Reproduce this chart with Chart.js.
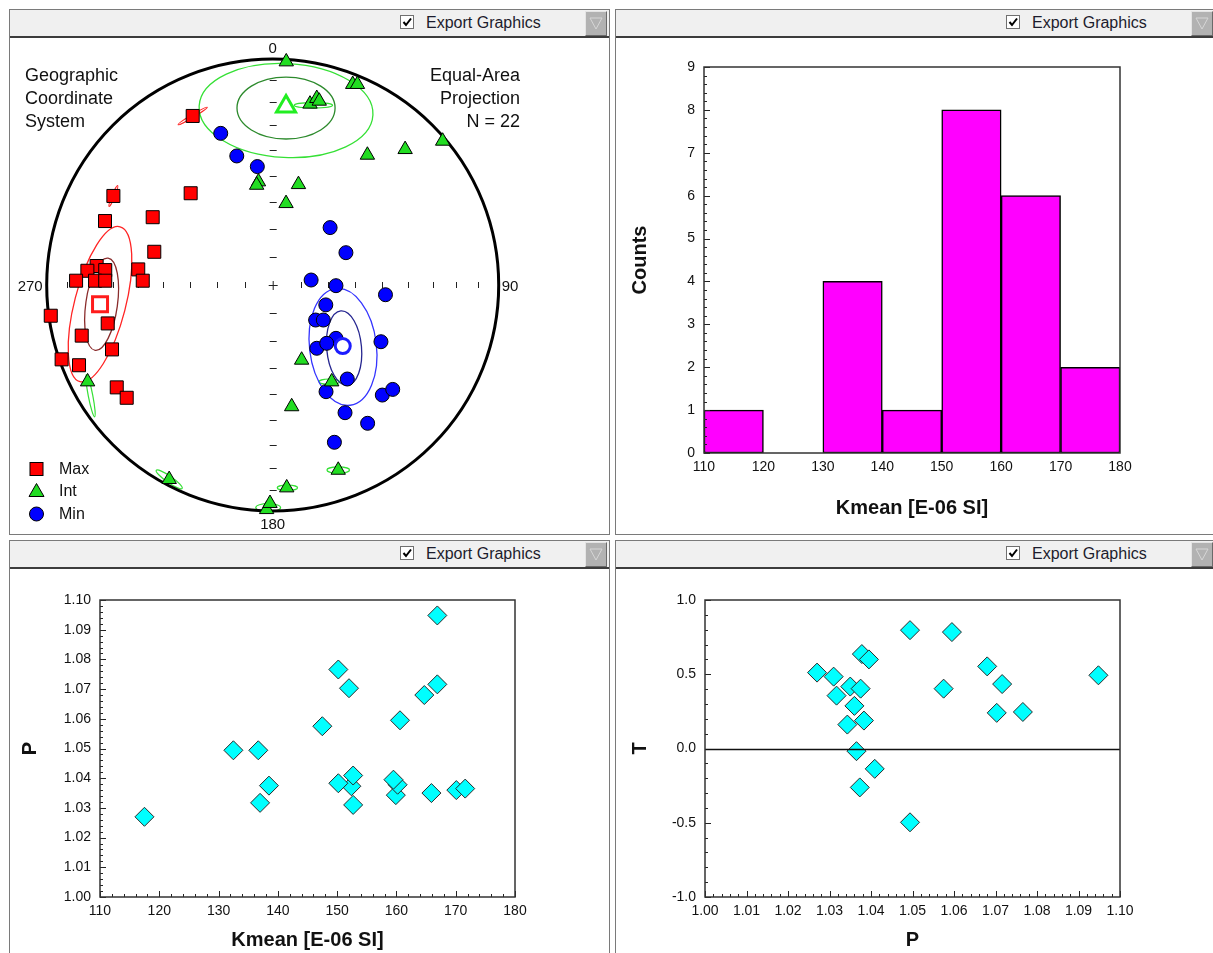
<!DOCTYPE html>
<html lang="en">
<head>
<meta charset="utf-8">
<title>Anisotropy of magnetic susceptibility – site summary</title>
<script src="https://cdn.jsdelivr.net/npm/chart.js@4.4.1/dist/chart.umd.min.js"></script>
<style>
  html, body { margin: 0; padding: 0; background: #fff; }
  body { width: 1213px; height: 953px; overflow: hidden; position: relative;
         font-family: "Liberation Sans", Arial, sans-serif; }
  .panel { position: absolute; background: #fff; border: 1px solid #7a7a7a; box-sizing: border-box; overflow: hidden; }
  .bar { position: absolute; left: 0; right: 0; top: 0; height: 26px; background: #f0f0f0; border-bottom: 2px solid #3c3c3c; }
  .chk { position: absolute; left: 390px; top: 5px; width: 14px; height: 14px; border: 1px solid #707070; background: #fff; box-sizing: border-box; }
  .chk svg { position: absolute; left: 0; top: 0; }
  .lbl { position: absolute; left: 416px; top: 0; line-height: 26px; font-size: 16px; color: #1c1c2c; white-space: nowrap; }
  .drop { position: absolute; left: 575px; top: 1px; width: 22px; height: 25px; background: #b2b2b2;
          border: 1px solid; border-color: #e4e4e4 #6a6a6a #6a6a6a #e4e4e4; box-sizing: border-box; }
  .drop svg { position: absolute; left: 0; top: 0; }
  canvas { position: absolute; left: 0; }
</style>
</head>
<body>

<div class="panel" style="left:9px;top:9px;width:601px;height:526px;">
  <div class="bar">
    <div class="chk"><svg width="12" height="12"><polyline points="2.5,6 5,9 10,2.5" fill="none" stroke="#000" stroke-width="2"/></svg></div>
    <div class="lbl">Export Graphics</div>
    <div class="drop"><svg width="20" height="23"><polygon points="4,6 16,6 10,17" fill="none" stroke="#d6d6d6" stroke-width="1"/></svg></div>
  </div>
  <canvas id="net" width="599" height="495" style="top:28px;"></canvas>
</div>

<div class="panel" style="left:615px;top:9px;width:601px;height:526px;">
  <div class="bar">
    <div class="chk"><svg width="12" height="12"><polyline points="2.5,6 5,9 10,2.5" fill="none" stroke="#000" stroke-width="2"/></svg></div>
    <div class="lbl">Export Graphics</div>
    <div class="drop"><svg width="20" height="23"><polygon points="4,6 16,6 10,17" fill="none" stroke="#d6d6d6" stroke-width="1"/></svg></div>
  </div>
  <canvas id="hist" width="597" height="495" style="top:28px;"></canvas>
</div>

<div class="panel" style="left:9px;top:540px;width:601px;height:420px;">
  <div class="bar">
    <div class="chk"><svg width="12" height="12"><polyline points="2.5,6 5,9 10,2.5" fill="none" stroke="#000" stroke-width="2"/></svg></div>
    <div class="lbl">Export Graphics</div>
    <div class="drop"><svg width="20" height="23"><polygon points="4,6 16,6 10,17" fill="none" stroke="#d6d6d6" stroke-width="1"/></svg></div>
  </div>
  <canvas id="pk" width="599" height="384" style="top:28px;"></canvas>
</div>

<div class="panel" style="left:615px;top:540px;width:601px;height:420px;">
  <div class="bar">
    <div class="chk"><svg width="12" height="12"><polyline points="2.5,6 5,9 10,2.5" fill="none" stroke="#000" stroke-width="2"/></svg></div>
    <div class="lbl">Export Graphics</div>
    <div class="drop"><svg width="20" height="23"><polygon points="4,6 16,6 10,17" fill="none" stroke="#d6d6d6" stroke-width="1"/></svg></div>
  </div>
  <canvas id="tp" width="597" height="384" style="top:28px;"></canvas>
</div>

<script>
// ---------------------------------------------------------------------------
// Specimen data (22 specimens)
// ---------------------------------------------------------------------------

// Mean susceptibility [E-06 SI], degree of anisotropy P, shape parameter T
const kmean  = [117.5, 152.7, 137.0, 159.9, 165.9, 170.1, 171.6, 152.4, 138.5, 160.2, 150.2,
                159.5, 152.7, 132.5, 136.7, 147.5, 160.6, 164.7, 152.0, 166.9, 150.2, 166.9];
const pAniso = [1.0270, 1.0310, 1.0317, 1.0343, 1.0350, 1.0360, 1.0365, 1.0373, 1.0375, 1.0378, 1.0383,
                1.0395, 1.0409, 1.0494, 1.0494, 1.0575, 1.0595, 1.0680, 1.0703, 1.0716, 1.0766, 1.0948];
const tShape = [0.511, 0.484, 0.356, 0.161, 0.417, 0.287, -0.018, -0.262, 0.403, 0.636, 0.188,
                0.600, -0.137, 0.797, -0.497, 0.403, 0.784, 0.553, 0.240, 0.434, 0.246, 0.493];

// Kmean histogram
const binEdges  = [110, 120, 130, 140, 150, 160, 170, 180];
const binCounts = [1, 0, 4, 1, 8, 6, 2];

// Principal axes in equal-area projection coordinates [east, north], unit primitive circle
const maxAxes = [[-0.354, 0.748], [-0.363, 0.406], [-0.705, 0.394], [-0.531, 0.300], [-0.742, 0.283],
                 [-0.524, 0.147], [-0.595, 0.069], [-0.575, 0.019], [-0.779, 0.084], [-0.820, 0.063],
                 [-0.741, 0.066], [-0.870, 0.019], [-0.786, 0.019], [-0.741, 0.019], [-0.730, -0.170],
                 [-0.845, -0.224], [-0.982, -0.136], [-0.711, -0.285], [-0.934, -0.329], [-0.857, -0.355],
                 [-0.690, -0.453], [-0.646, -0.499]];
const intAxes = [[0.060, 0.988], [0.354, 0.888], [0.375, 0.888], [0.165, 0.801], [0.195, 0.826],
                 [0.206, 0.814], [0.752, 0.637], [0.586, 0.600], [0.419, 0.575], [0.114, 0.445],
                 [-0.063, 0.457], [-0.071, 0.442], [0.059, 0.361], [0.128, -0.332], [0.261, -0.428],
                 [0.084, -0.538], [0.290, -0.819], [0.062, -0.897], [-0.027, -0.993], [-0.012, -0.966],
                 [-0.458, -0.860], [-0.819, -0.428]];
const minAxes = [[-0.230, 0.671], [-0.159, 0.571], [-0.068, 0.524], [0.254, 0.254], [0.324, 0.143],
                 [0.170, 0.022], [0.280, -0.003], [0.499, -0.043], [0.235, -0.088], [0.190, -0.155],
                 [0.224, -0.155], [0.280, -0.236], [0.195, -0.280], [0.239, -0.258], [0.479, -0.251],
                 [0.330, -0.416], [0.236, -0.472], [0.485, -0.487], [0.531, -0.462], [0.320, -0.565],
                 [0.420, -0.612], [0.273, -0.696]];

// Site mean axes
const maxMean = [-0.764, -0.085];
const intMean = [0.059, 0.790];
const minMean = [0.310, -0.270];

// Confidence ellipses: [east, north, semi-axis a, semi-axis b, rotation deg, colour]
const meanEllipses = [
  [-0.764, -0.085, 0.354, 0.113, 75.5, '#ff2424'],
  [-0.757, -0.085, 0.206, 0.070, 82.0, '#8a2c2c'],
  [0.059, 0.772, 0.385, 0.208, -3.0, '#35e035'],
  [0.059, 0.783, 0.217, 0.137, 0.0, '#2c8a2c'],
  [0.311, -0.274, 0.260, 0.148, 97.0, '#3434ff'],
  [0.316, -0.279, 0.165, 0.077, 95.0, '#262690']
];
const specimenEllipses = [
  [-0.354, 0.748, 0.075, 0.006, 31, '#ff2424'],
  [-0.705, 0.394, 0.050, 0.006, 68, '#ff2424'],
  [-0.806, -0.490, 0.095, 0.010, -79, '#35e035'],
  [-0.458, -0.860, 0.070, 0.014, -35, '#35e035'],
  [-0.020, -0.985, 0.055, 0.018, 0, '#35e035'],
  [0.290, -0.819, 0.050, 0.014, 0, '#35e035'],
  [0.065, -0.897, 0.045, 0.012, 0, '#35e035'],
  [0.250, -0.428, 0.045, 0.012, 0, '#35e035'],
  [0.180, 0.795, 0.085, 0.012, 0, '#35e035']
];

// ---------------------------------------------------------------------------
// Styling
// ---------------------------------------------------------------------------
const FONT = '"Liberation Sans", Arial, sans-serif';
const INK = '#111';
Chart.defaults.font.family = FONT;
Chart.defaults.color = INK;

const RED = '#ff0000', GREEN = '#22dd22', BLUE = '#0000ff';

const asPoints = arr => arr.map(p => ({ x: p[0], y: p[1] }));

// Framed plot box with inward major/minor ticks on the left and bottom edges
const boxTicks = {
  id: 'boxTicks',
  afterDatasetsDraw(chart, args, o) {
    const { ctx, chartArea: a, scales: { x, y } } = chart;
    ctx.save();
    ctx.strokeStyle = '#222';
    ctx.lineWidth = 1;
    const mark = (scale, step, horiz) => {
      if (!step) return;
      const major = scale.options.ticks.stepSize;
      const n = Math.round((scale.max - scale.min) / step);
      for (let i = 0; i <= n; i++) {
        const v = scale.min + i * step;
        const q = v / major;
        const len = Math.abs(q - Math.round(q)) < 1e-6 ? 6 : 3;
        const p = Math.round(scale.getPixelForValue(v)) + 0.5;
        ctx.beginPath();
        if (horiz) { ctx.moveTo(p, a.bottom); ctx.lineTo(p, a.bottom - len); }
        else { ctx.moveTo(a.left, p); ctx.lineTo(a.left + len, p); }
        ctx.stroke();
      }
    };
    mark(x, o.xMinor, true);
    mark(y, o.yMinor, false);
    if (o.zeroLine) {
      const p = Math.round(y.getPixelForValue(0)) + 0.5;
      ctx.lineWidth = 1.5;
      ctx.strokeStyle = '#111';
      ctx.beginPath(); ctx.moveTo(a.left, p); ctx.lineTo(a.right, p); ctx.stroke();
    }
    ctx.lineWidth = 1.5;
    ctx.strokeStyle = '#333';
    ctx.strokeRect(a.left, a.top, a.right - a.left, a.bottom - a.top);
    ctx.restore();
  }
};

function axisTitle(text, pad) {
  return { display: true, text, font: { size: 20, weight: 'bold', family: FONT }, color: '#111', padding: pad };
}

const baseOptions = {
  responsive: false,
  animation: false,
  devicePixelRatio: 1,
  events: [],
  plugins: { legend: { display: false }, tooltip: { enabled: false } }
};

// ---------------------------------------------------------------------------
// Equal-area stereonet
// ---------------------------------------------------------------------------
const stereoNet = {
  id: 'stereoNet',
  beforeDatasetsDraw(chart) {
    const { ctx, scales: { x, y } } = chart;
    const cx = x.getPixelForValue(0), cy = y.getPixelForValue(0);
    const R = x.getPixelForValue(1) - cx;
    ctx.save();

    const ellipse = (e, w) => {
      ctx.strokeStyle = e[5];
      ctx.lineWidth = w;
      ctx.beginPath();
      ctx.ellipse(x.getPixelForValue(e[0]), y.getPixelForValue(e[1]), e[2] * R, e[3] * R,
                  -e[4] * Math.PI / 180, 0, 2 * Math.PI);
      ctx.stroke();
    };
    specimenEllipses.forEach(e => ellipse(e, 1.2));
    meanEllipses.forEach(e => ellipse(e, 1.3));

    // primitive circle
    ctx.strokeStyle = '#000';
    ctx.lineWidth = 3;
    ctx.beginPath(); ctx.arc(cx, cy, R, 0, 2 * Math.PI); ctx.stroke();

    // 10-degree graduations along the N-S and E-W diameters
    ctx.lineWidth = 1;
    ctx.strokeStyle = '#222';
    for (let k = 1; k <= 8; k++) {
      const r = Math.SQRT2 * Math.sin(k * 5 * Math.PI / 180) * R;
      for (const s of [-1, 1]) {
        const px = Math.round(cx + s * r) + 0.5;
        ctx.beginPath(); ctx.moveTo(px, cy - 3); ctx.lineTo(px, cy + 3); ctx.stroke();
        const py = Math.round(cy + s * r) + 0.5;
        ctx.beginPath(); ctx.moveTo(cx - 3, py); ctx.lineTo(cx + 4, py); ctx.stroke();
      }
    }
    ctx.beginPath();
    ctx.moveTo(cx - 4, cy + 0.5); ctx.lineTo(cx + 5, cy + 0.5);
    ctx.moveTo(cx + 0.5, cy - 4); ctx.lineTo(cx + 0.5, cy + 5);
    ctx.stroke();
    ctx.restore();
  },
  afterDraw(chart) {
    const { ctx, scales: { x, y } } = chart;
    const cx = x.getPixelForValue(0), cy = y.getPixelForValue(0);
    const R = x.getPixelForValue(1) - cx;
    ctx.save();
    ctx.fillStyle = INK;
    ctx.textBaseline = 'middle';

    // azimuth labels
    ctx.font = '15px ' + FONT;
    ctx.textAlign = 'center';
    ctx.fillText('0', cx, cy - R - 10);
    ctx.fillText('180', cx, cy + R + 14);
    ctx.textAlign = 'right';
    ctx.fillText('270', cx - R - 4, cy + 2);
    ctx.textAlign = 'left';
    ctx.fillText('90', cx + R + 3, cy + 2);

    // captions
    ctx.font = '18px ' + FONT;
    ctx.textAlign = 'left';
    ['Geographic', 'Coordinate', 'System'].forEach((t, i) => ctx.fillText(t, 15, 38 + i * 23));
    ctx.textAlign = 'right';
    ['Equal-Area', 'Projection', 'N = ' + maxAxes.length].forEach((t, i) => ctx.fillText(t, 510, 38 + i * 23));

    // legend
    const lx = 26.5;
    const rows = [
      { label: 'Max', y: 431 },
      { label: 'Int', y: 453 },
      { label: 'Min', y: 476 }
    ];
    ctx.strokeStyle = '#000';
    ctx.lineWidth = 1;
    ctx.fillStyle = RED;
    ctx.fillRect(lx - 6.5, rows[0].y - 6.5, 13, 13);
    ctx.strokeRect(lx - 6.5, rows[0].y - 6.5, 13, 13);
    ctx.fillStyle = GREEN;
    ctx.beginPath();
    ctx.moveTo(lx, rows[1].y - 7.5); ctx.lineTo(lx + 7.5, rows[1].y + 5.5); ctx.lineTo(lx - 7.5, rows[1].y + 5.5);
    ctx.closePath(); ctx.fill(); ctx.stroke();
    ctx.fillStyle = BLUE;
    ctx.beginPath(); ctx.arc(lx, rows[2].y, 7, 0, 2 * Math.PI); ctx.fill(); ctx.stroke();
    ctx.fillStyle = INK;
    ctx.font = '16px ' + FONT;
    ctx.textAlign = 'left';
    rows.forEach(r => ctx.fillText(r.label, 49, r.y + 1));
    ctx.restore();
  }
};

new Chart(document.getElementById('net'), {
  type: 'scatter',
  data: {
    datasets: [
      { label: 'Max mean', data: asPoints([maxMean]), pointStyle: 'rect', pointRadius: 10.6,
        backgroundColor: '#fff', borderColor: '#ff1c1c', borderWidth: 3, clip: false },
      { label: 'Int mean', data: asPoints([intMean]), pointStyle: 'triangle', pointRadius: 11,
        backgroundColor: '#fff', borderColor: '#22ee22', borderWidth: 3, clip: false },
      { label: 'Min mean', data: asPoints([minMean]), pointStyle: 'circle', pointRadius: 7.5,
        backgroundColor: '#fff', borderColor: '#1c1cff', borderWidth: 3, clip: false },
      { label: 'Max', data: asPoints(maxAxes), pointStyle: 'rect', pointRadius: 9.2,
        backgroundColor: RED, borderColor: '#000', borderWidth: 1, clip: false },
      { label: 'Int', data: asPoints(intAxes), pointStyle: 'triangle', pointRadius: 8.3,
        backgroundColor: GREEN, borderColor: '#000', borderWidth: 1, clip: false },
      { label: 'Min', data: asPoints(minAxes), pointStyle: 'circle', pointRadius: 7,
        backgroundColor: BLUE, borderColor: '#000', borderWidth: 1, clip: false }
    ]
  },
  options: Object.assign({}, baseOptions, {
    layout: { padding: { left: 36.7, right: 110.3, top: 21, bottom: 22 } },
    scales: {
      x: { type: 'linear', min: -1, max: 1, display: false },
      y: { type: 'linear', min: -1, max: 1, display: false }
    }
  }),
  plugins: [stereoNet]
});

// ---------------------------------------------------------------------------
// Kmean histogram
// ---------------------------------------------------------------------------
new Chart(document.getElementById('hist'), {
  type: 'bar',
  data: {
    datasets: [{
      label: 'Counts',
      data: binCounts.map((c, i) => ({ x: (binEdges[i] + binEdges[i + 1]) / 2, y: c })),
      backgroundColor: '#ff00ff',
      borderColor: '#000',
      borderWidth: 1.5,
      borderSkipped: false,
      barPercentage: 1,
      categoryPercentage: 1
    }]
  },
  options: Object.assign({}, baseOptions, {
    layout: { padding: { left: 0, right: 93, top: 29, bottom: 0 } },
    scales: {
      x: {
        type: 'linear', min: binEdges[0], max: binEdges[binEdges.length - 1], offset: false,
        grid: { display: false, drawTicks: false }, border: { display: false },
        ticks: { stepSize: 10, padding: 6, font: { size: 14 }, maxRotation: 0 },
        title: axisTitle('Kmean [E-06 SI]', { top: 0, bottom: 13 }),
        afterFit: s => { s.height = 80; }
      },
      y: {
        min: 0, max: 9,
        grid: { display: false, drawTicks: false }, border: { display: false },
        ticks: { stepSize: 1, padding: 9, font: { size: 14 } },
        title: axisTitle('Counts', { top: 12, bottom: 0 }),
        afterFit: s => { s.width = 88; }
      }
    },
    plugins: Object.assign({}, baseOptions.plugins, { boxTicks: { yMinor: 0.2 } })
  }),
  plugins: [boxTicks]
});

// ---------------------------------------------------------------------------
// P versus Kmean
// ---------------------------------------------------------------------------
const diamond = {
  pointStyle: 'rectRot', pointRadius: 9.5,
  backgroundColor: '#00ffff', borderColor: '#2a2a2a', borderWidth: 1, clip: false
};

new Chart(document.getElementById('pk'), {
  type: 'scatter',
  data: { datasets: [Object.assign({ label: 'P', data: kmean.map((k, i) => ({ x: k, y: pAniso[i] })) }, diamond)] },
  options: Object.assign({}, baseOptions, {
    layout: { padding: { left: 0, right: 94, top: 31, bottom: 0 } },
    scales: {
      x: {
        type: 'linear', min: 110, max: 180,
        grid: { display: false, drawTicks: false }, border: { display: false },
        ticks: { stepSize: 10, padding: 6, font: { size: 14 }, maxRotation: 0 },
        title: axisTitle('Kmean [E-06 SI]', { top: 0, bottom: 1 }),
        afterFit: s => { s.height = 56; }
      },
      y: {
        type: 'linear', min: 1.0, max: 1.1,
        grid: { display: false, drawTicks: false }, border: { display: false },
        ticks: { stepSize: 0.01, padding: 9, font: { size: 14 }, callback: v => v.toFixed(2) },
        title: axisTitle('P', { top: 8, bottom: 0 }),
        afterFit: s => { s.width = 90; }
      }
    },
    plugins: Object.assign({}, baseOptions.plugins, { boxTicks: { xMinor: 2, yMinor: 0.002 } })
  }),
  plugins: [boxTicks]
});

// ---------------------------------------------------------------------------
// T versus P
// ---------------------------------------------------------------------------
new Chart(document.getElementById('tp'), {
  type: 'scatter',
  data: { datasets: [Object.assign({ label: 'T', data: pAniso.map((p, i) => ({ x: p, y: tShape[i] })) }, diamond)] },
  options: Object.assign({}, baseOptions, {
    layout: { padding: { left: 0, right: 93, top: 31, bottom: 0 } },
    scales: {
      x: {
        type: 'linear', min: 1.0, max: 1.1,
        grid: { display: false, drawTicks: false }, border: { display: false },
        ticks: { stepSize: 0.01, padding: 6, font: { size: 14 }, maxRotation: 0, callback: v => v.toFixed(2) },
        title: axisTitle('P', { top: 0, bottom: 1 }),
        afterFit: s => { s.height = 56; }
      },
      y: {
        type: 'linear', min: -1, max: 1,
        grid: { display: false, drawTicks: false }, border: { display: false },
        ticks: { stepSize: 0.5, padding: 9, font: { size: 14 }, callback: v => v.toFixed(1) },
        title: axisTitle('T', { top: 12, bottom: 0 }),
        afterFit: s => { s.width = 89; }
      }
    },
    plugins: Object.assign({}, baseOptions.plugins, { boxTicks: { xMinor: 0.002, yMinor: 0.1, zeroLine: true } })
  }),
  plugins: [boxTicks]
});
</script>
</body>
</html>
